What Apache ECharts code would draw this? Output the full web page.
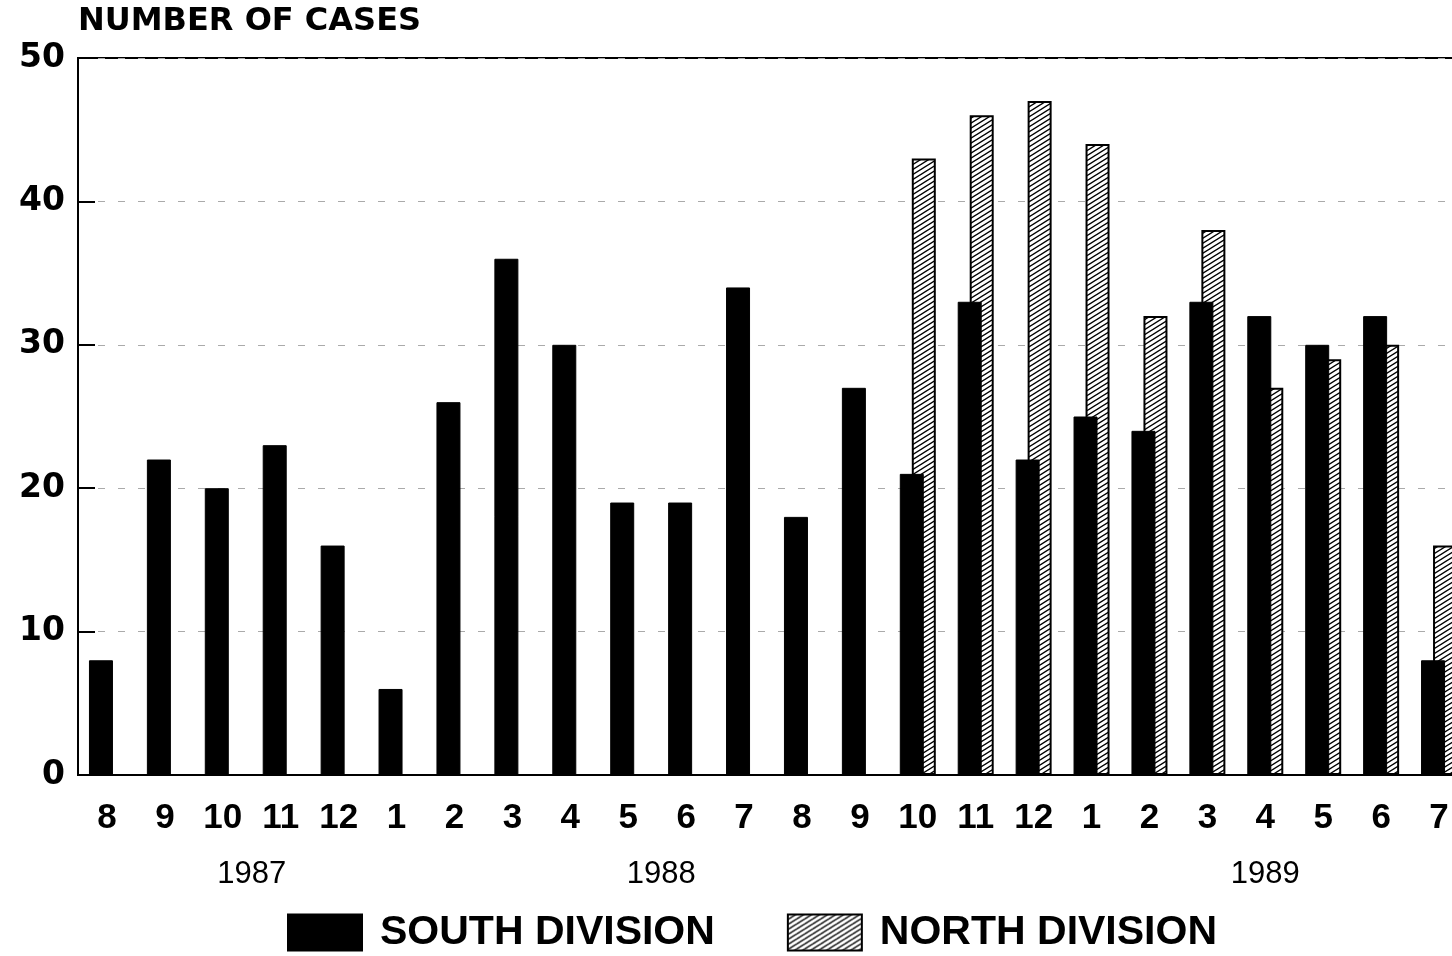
<!DOCTYPE html>
<html>
<head>
<meta charset="utf-8">
<script src="https://cdn.jsdelivr.net/npm/echarts@6/dist/echarts.min.js"></script>
<style>
  html, body { margin: 0; padding: 0; background: #fff; }
  #chart { width: 1452px; height: 956px; }
</style>
</head>
<body>
<div id="chart"></div>
<script>
// months from Aug 1987 to Jul 1989
var months = ['8', '9', '10', '11', '12', '1', '2', '3', '4', '5', '6', '7',
              '8', '9', '10', '11', '12', '1', '2', '3', '4', '5', '6', '7'];
var southCases = [8, 22, 20, 23, 16, 6, 26, 36, 30, 19, 19, 34,
                  18, 27, 21, 33, 22, 25, 24, 33, 32, 30, 32, 8];
var northCases = [null, null, null, null, null, null, null, null, null, null, null, null,
                  null, null, 43, 46, 47, 44, 32, 38, 27, 29, 30, 16];
var yearLabels = ['1987', '1988', '1989'];
var yearPositions = [2.5, 9.57, 20];

// hatch pattern for the north bars
function makeHatch() {
    var w = 8, h = 5;
    var c = document.createElement('canvas');
    c.width = w;
    c.height = h;
    var ctx = c.getContext('2d');
    ctx.fillStyle = '#fff';
    ctx.fillRect(0, 0, w, h);
    ctx.strokeStyle = '#000';
    ctx.lineWidth = 1.4;
    ctx.beginPath();
    ctx.moveTo(-w, 2 * h); ctx.lineTo(2 * w, -h);
    ctx.moveTo(-2 * w, 2 * h); ctx.lineTo(w, -h);
    ctx.moveTo(0, 2 * h); ctx.lineTo(3 * w, -h);
    ctx.stroke();
    return c;
}
var hatch = { image: makeHatch(), repeat: 'repeat' };

var chartDom = document.getElementById('chart');
var myChart = echarts.init(chartDom);
var option;

option = {
    animation: false,
    backgroundColor: '#fff',
    grid: {
        left: 78,
        top: 58,
        right: -16,
        bottom: 181,
        outerBoundsMode: 'none',
        show: true,
        borderColor: '#000',
        borderWidth: 2
    },
    legend: {
        left: 287,
        top: 912,
        padding: 0,
        itemWidth: 74,
        itemHeight: 36,
        itemGap: 72,
        icon: 'rect',
        data: ['SOUTH DIVISION', 'NORTH DIVISION'],
        textStyle: {
            fontFamily: 'Liberation Sans',
            fontWeight: 'bold',
            fontSize: 41,
            lineHeight: 41,
            color: '#000',
            padding: [0, 0, 0, 13]
        }
    },
    xAxis: [
        {
            type: 'category',
            data: months,
            position: 'bottom',
            axisLine: { lineStyle: { color: '#000', width: 2 } },
            axisTick: { show: false },
            axisLabel: {
                interval: 0,
                margin: 26,
                color: '#000',
                fontFamily: 'Liberation Sans',
                fontWeight: 'bold',
                fontSize: 35
            }
        },
        {
            type: 'value',
            position: 'bottom',
            min: -0.5,
            max: 23.5,
            axisLine: { show: false },
            axisTick: { show: false },
            splitLine: { show: false },
            axisLabel: {
                customValues: yearPositions,
                margin: 84,
                color: '#000',
                fontFamily: 'Liberation Sans',
                fontSize: 31,
                formatter: function (v) {
                    var i = yearPositions.indexOf(v);
                    return i >= 0 ? yearLabels[i] : '';
                }
            }
        }
    ],
    yAxis: {
        type: 'value',
        min: 0,
        max: 50,
        interval: 10,
        name: 'NUMBER OF CASES',
        nameLocation: 'end',
        nameGap: 20,
        nameTextStyle: {
            align: 'left',
            color: '#000',
            fontFamily: 'DejaVu Sans',
            fontWeight: 'bold',
            fontSize: 32
        },
        axisLine: { show: true, onZero: false, lineStyle: { color: '#000', width: 2 } },
        axisTick: { show: true, inside: true, length: 17, lineStyle: { color: '#000', width: 2 } },
        axisLabel: {
            margin: 13,
            color: '#000',
            fontFamily: 'DejaVu Sans',
            fontWeight: 'bold',
            fontSize: 33
        },
        splitLine: {
            show: true,
            lineStyle: { color: '#aaa', width: 1, type: [7, 13] }
        }
    },
    series: [
        {
            name: 'SOUTH DIVISION',
            type: 'bar',
            data: southCases,
            barWidth: 24,
            barGap: '-50%',
            z: 3,
            itemStyle: { color: '#000', borderColor: '#000', borderWidth: 1 }
        },
        {
            name: 'NORTH DIVISION',
            type: 'bar',
            data: northCases,
            barWidth: 24,
            barGap: '-50%',
            z: 2,
            itemStyle: { color: hatch, borderColor: '#000', borderWidth: 2 }
        }
    ]
};

option && myChart.setOption(option);
</script>
</body>
</html>
